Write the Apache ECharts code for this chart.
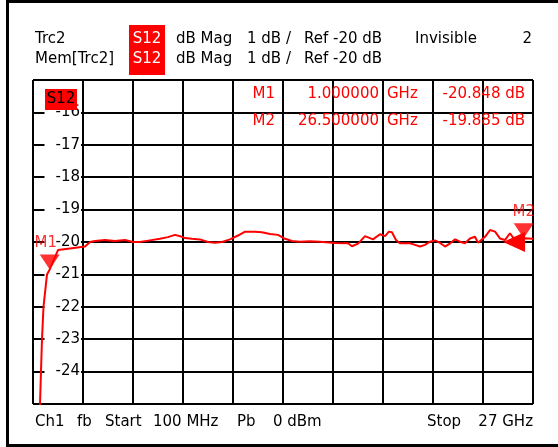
<!DOCTYPE html>
<html>
<head>
<meta charset="utf-8">
<script src="https://cdn.jsdelivr.net/npm/echarts@6/dist/echarts.min.js"></script>
<style>
  html, body { margin: 0; padding: 0; background: #fff; }
  #main { width: 558px; height: 447px; }
</style>
</head>
<body>
<div id="main"></div>
<script>
// trace (frequency in GHz, S12 in dB)
const freqGHz = [0.1, 0.477, 0.53, 0.584, 0.665, 0.853, 1.0, 1.445, 2.09, 2.9, 3.17, 3.44, 3.97, 4.51, 5.05, 5.48, 5.85,
  6.39, 6.93, 7.36, 7.74, 8.01, 8.28, 8.65, 9.08, 9.51, 9.89, 10.27, 10.7, 11.13, 11.51, 12.04, 12.42, 12.85, 13.28,
  13.66, 14.03, 14.46, 15.0, 15.54, 16.35, 17.05, 17.26, 17.59, 17.96, 18.39, 18.77, 19.04, 19.25, 19.41, 19.63,
  19.84, 20.38, 20.65, 20.92, 21.19, 21.46, 21.73, 22.0, 22.27, 22.54, 22.81, 23.07, 23.34, 23.61, 23.88, 24.04,
  24.42, 24.69, 24.96, 25.22, 25.49, 25.76, 26.03, 26.5, 27.0];
const s12dB = [-40, -25.0, -24.0, -23.0, -22.0, -21.0, -20.848, -20.25, -20.2, -20.14, -20.0, -19.97, -19.94, -19.97,
  -19.94, -20.0, -20.0, -19.95, -19.9, -19.85, -19.78, -19.82, -19.88, -19.9, -19.92, -20.0, -20.02, -20.0, -19.92,
  -19.8, -19.68, -19.68, -19.7, -19.75, -19.78, -19.9, -19.97, -19.99, -19.98, -19.99, -20.03, -20.04, -20.13, -20.05,
  -19.82, -19.92, -19.76, -19.82, -19.68, -19.7, -19.94, -20.04, -20.04, -20.09, -20.14, -20.09, -19.99, -19.95,
  -20.03, -20.14, -20.04, -19.92, -19.99, -20.04, -19.89, -19.84, -20.02, -19.84, -19.63, -19.68, -19.89, -19.94,
  -19.73, -19.94, -19.885, -19.9];

const markerNames = ["M1", "M2"];
const markerFreq = [1.0, 26.5];
const markerDb = [-20.848, -19.885];
const markerFreqText = ["1.000000", "26.500000"];
const markerDbText = ["-20.848 dB", "-19.885 dB"];

const yTicks = [-25, -15]; // min / max of the dB scale
const refLevel = -20;

const FONT = '15px "DejaVu Sans"';
const RED = "#ff0000";

let myChart = echarts.init(document.getElementById("main"));

let tracePoints = freqGHz.map((f, i) => [f, s12dB[i]]);
let markerPoints = markerNames.map((n, i) => ({
  value: [markerFreq[i], markerDb[i]],
  name: n,
  label: { offset: i === 0 ? [-4, 0] : [0, 0] }
}));

function txt(text, x, y, opts) {
  return {
    type: "text",
    z: 100,
    style: Object.assign({
      text: text, x: x, y: y, font: FONT, fill: "#000",
      textAlign: "left", textVerticalAlign: "middle"
    }, opts || {})
  };
}

let graphics = [
  // outer frame
  { type: "rect", z: 100, shape: { x: 6, y: 0, width: 552, height: 3 }, style: { fill: "#000" } },
  { type: "rect", z: 100, shape: { x: 6, y: 0, width: 3, height: 447 }, style: { fill: "#000" } },
  { type: "rect", z: 100, shape: { x: 6, y: 444, width: 552, height: 3 }, style: { fill: "#000" } },
  // header
  { type: "rect", z: 100, shape: { x: 129, y: 25, width: 36, height: 50 }, style: { fill: RED } },
  txt("Trc2", 35, 39.5),
  txt("S12", 147, 39.5, { fill: "#fff", textAlign: "center" }),
  txt("dB Mag", 176, 39.5),
  txt("1 dB /", 247, 39.5),
  txt("Ref -20 dB", 304, 39.5),
  txt("Invisible", 415, 39.5),
  txt("2", 532, 39.5, { textAlign: "right" }),
  txt("Mem[Trc2]", 35, 59.5),
  txt("S12", 147, 59.5, { fill: "#fff", textAlign: "center" }),
  txt("dB Mag", 176, 59.5),
  txt("1 dB /", 247, 59.5),
  txt("Ref -20 dB", 304, 59.5),
  // trace badge
  { type: "rect", z: 100, shape: { x: 45, y: 89, width: 32, height: 21 }, style: { fill: RED } },
  txt("S12", 61, 99.5, { textAlign: "center" }),
  // footer
  txt("Ch1", 35, 422.5),
  txt("fb", 77, 422.5),
  txt("Start", 105, 422.5),
  txt("100 MHz", 153, 422.5),
  txt("Pb", 237, 422.5),
  txt("0 dBm", 273, 422.5),
  txt("Stop", 427, 422.5),
  txt("27 GHz", 533, 422.5, { textAlign: "right" })
];

// marker readout table
markerNames.forEach((n, i) => {
  let y = i === 0 ? 94.5 : 121.5;
  graphics.push(txt(n, 275, y, { fill: RED, textAlign: "right" }));
  graphics.push(txt(markerFreqText[i], 379, y, { fill: RED, textAlign: "right" }));
  graphics.push(txt("GHz", 387, y, { fill: RED }));
  graphics.push(txt(markerDbText[i], 525, y, { fill: RED, textAlign: "right" }));
});

let options = {
  animation: false,
  backgroundColor: "#fff",
  grid: { left: 33, top: 80, width: 500, height: 324, show: false },
  xAxis: [
    { type: "value", min: 0.1, max: 27, show: false, gridIndex: 0 },
    {
      type: "value", min: 0, max: 10, interval: 1, gridIndex: 0, position: "bottom",
      axisLine: { show: false }, axisTick: { show: false }, axisLabel: { show: false },
      splitLine: { show: true, lineStyle: { color: "#000", width: 2 } }
    }
  ],
  yAxis: {
    type: "value", min: yTicks[0], max: yTicks[1], interval: 1,
    axisLine: { show: false }, axisTick: { show: false },
    splitLine: { show: true, lineStyle: { color: "#000", width: 2 } },
    axisLabel: {
      inside: true, margin: 48, align: "right",
      showMinLabel: false, showMaxLabel: false,
      color: "#000", fontFamily: "DejaVu Sans", fontSize: 15,
      backgroundColor: "#fff", padding: [0, 1, 0, 11]
    }
  },
  series: [
    {
      name: "Trc2",
      type: "line",
      xAxisIndex: 0,
      data: tracePoints,
      showSymbol: false,
      clip: true,
      z: 3,
      lineStyle: { color: RED, width: 2 }
    },
    {
      name: "markers",
      type: "scatter",
      xAxisIndex: 0,
      data: markerPoints,
      symbol: "path://M0,0 L20,0 L10,15 Z",
      symbolSize: [20, 15],
      symbolOffset: [0, "-50%"],
      itemStyle: { color: RED },
      z: 5,
      label: {
        show: true, position: "top", distance: 4,
        formatter: (p) => p.name,
        color: RED, fontFamily: "DejaVu Sans", fontSize: 15
      },
      markPoint: {
        symbol: "path://M0,10 L22,0 L22,20 Z",
        symbolSize: [22, 20],
        itemStyle: { color: RED },
        label: { show: false },
        data: [{ coord: [25.98, refLevel] }]
      }
    }
  ],
  graphic: graphics
};
myChart.setOption(options);
</script>
</body>
</html>
